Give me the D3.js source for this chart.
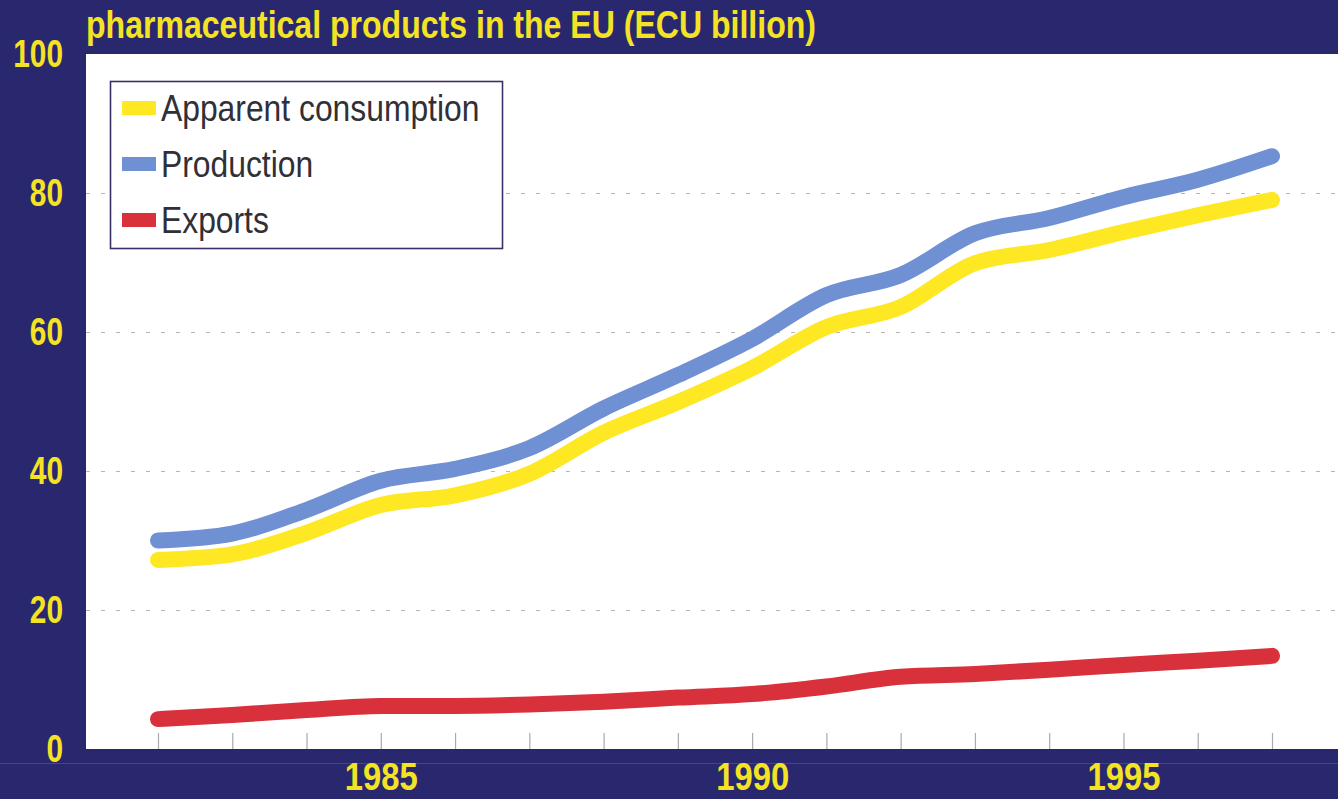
<!DOCTYPE html>
<html>
<head>
<meta charset="utf-8">
<script src="https://cdn.jsdelivr.net/npm/d3@7"></script>
<style>
  html, body { margin: 0; padding: 0; background: #29286f; }
  svg { display: block; }
</style>
</head>
<body>
<svg id="chart" width="1338" height="799"></svg>
<script>
// EU pharmaceutical market, ECU billion
const years = [1982, 1983, 1984, 1985, 1986, 1987, 1988, 1989, 1990, 1991, 1992, 1993, 1994, 1995, 1996, 1997];
const consumption = [27.2, 28.0, 31.1, 35.1, 36.5, 39.6, 45.5, 49.9, 54.8, 60.7, 63.6, 69.9, 71.8, 74.4, 76.8, 79.0];
const production  = [30.0, 31.0, 34.4, 38.6, 40.3, 43.3, 49.0, 53.8, 59.0, 65.3, 68.2, 74.2, 76.4, 79.4, 81.9, 85.3];
const exportsVals = [4.3, 4.9, 5.6, 6.2, 6.2, 6.4, 6.8, 7.4, 7.9, 9.0, 10.4, 10.8, 11.4, 12.1, 12.7, 13.4];
const yTicks = [0, 20, 40, 60, 80, 100];
const xLabels = [1985, 1990, 1995];
const seriesNames = ["Apparent consumption", "Production", "Exports"];
const seriesColors = ["#fde823", "#6f90d2", "#d8313c"];
const titleText = "pharmaceutical products in the EU (ECU billion)";

const svg = d3.select("#chart");
const W = 1338, H = 799;
const plot = { left: 86, top: 54, right: 1338, bottom: 749 };

const x = d3.scaleLinear().domain([1982, 1997]).range([158, 1272]);
const y = d3.scaleLinear().domain([0, 100]).range([plot.bottom, plot.top]);

const yellow = "#f4e325";
const font = "'Liberation Sans', Arial, sans-serif";

// squeeze text horizontally to a condensed width
function condense(sel, factor) {
  sel.each(function () {
    const w = this.getComputedTextLength();
    d3.select(this).attr("textLength", w * factor).attr("lengthAdjust", "spacingAndGlyphs");
  });
}

// background
svg.append("rect").attr("width", W).attr("height", H).attr("fill", "#29286f");

// faint rule below the plot
svg.append("line")
  .attr("x1", 0).attr("x2", W).attr("y1", 763.5).attr("y2", 763.5)
  .attr("stroke", "#8a3a7c").attr("stroke-width", 1).attr("opacity", 0.7);

// title
svg.append("text")
  .attr("x", 86).attr("y", 38)
  .attr("font-family", font).attr("font-weight", "bold")
  .attr("font-size", 38).attr("fill", yellow)
  .attr("textLength", 730).attr("lengthAdjust", "spacingAndGlyphs")
  .text(titleText);

// plot area
svg.append("rect")
  .attr("x", plot.left).attr("y", plot.top)
  .attr("width", plot.right - plot.left).attr("height", plot.bottom - plot.top)
  .attr("fill", "#ffffff");

// dashed gridlines
svg.append("g")
  .selectAll("line")
  .data(yTicks.filter(d => d > 0 && d < 100))
  .join("line")
  .attr("x1", plot.left).attr("x2", plot.right)
  .attr("y1", d => y(d) + 0.5).attr("y2", d => y(d) + 0.5)
  .attr("stroke", "#b5b5b8").attr("stroke-width", 1)
  .attr("stroke-dasharray", "4,11");

// y-axis labels
const yAxis = d3.axisLeft(y).tickValues(yTicks).tickSize(0).tickPadding(0);
const gy = svg.append("g").attr("transform", "translate(63,0)").call(yAxis);
gy.select(".domain").remove();
gy.selectAll("text")
  .attr("font-family", font).attr("font-weight", "bold")
  .attr("font-size", 38).attr("fill", yellow)
  .attr("dy", "0.34em")
  .attr("textLength", d => String(d).length * 16.6)
  .attr("lengthAdjust", "spacingAndGlyphs");

// x-axis minor ticks inside the plot
const xTickAxis = d3.axisTop(x).tickValues(years).tickSize(16).tickFormat("");
const gxt = svg.append("g").attr("transform", `translate(0,${plot.bottom})`).call(xTickAxis);
gxt.select(".domain").remove();
gxt.selectAll("line").attr("stroke", "#a9a9b0").attr("stroke-width", 1.2);

// x-axis year labels (baseline placed directly)
const xAxis = d3.axisBottom(x).tickValues(xLabels).tickSize(0).tickPadding(0).tickFormat(d3.format("d"));
const gx = svg.append("g").attr("transform", "translate(0,0)").call(xAxis);
gx.select(".domain").remove();
gx.selectAll("text")
  .attr("y", 790).attr("dy", null)
  .attr("font-family", font).attr("font-weight", "bold")
  .attr("font-size", 38).attr("fill", yellow)
  .attr("textLength", 73)
  .attr("lengthAdjust", "spacingAndGlyphs");

// series lines
const line = d3.line()
  .x((d, i) => x(years[i]))
  .y(d => y(d))
  .curve(d3.curveMonotoneX);

const series = [exportsVals, consumption, production];
const seriesCol = [seriesColors[2], seriesColors[0], seriesColors[1]];
svg.append("g")
  .selectAll("path")
  .data(series)
  .join("path")
  .attr("d", d => line(d))
  .attr("fill", "none")
  .attr("stroke", (d, i) => seriesCol[i])
  .attr("stroke-width", 16)
  .attr("stroke-linecap", "round")
  .attr("stroke-linejoin", "round");

// legend
const lg = svg.append("g").attr("transform", "translate(110,81)");
lg.append("rect")
  .attr("x", 0.5).attr("y", 0.5).attr("width", 392).attr("height", 167)
  .attr("fill", "#ffffff").attr("stroke", "#3c2f66").attr("stroke-width", 1.6);
const rows = lg.selectAll("g.row")
  .data(seriesNames)
  .join("g")
  .attr("class", "row")
  .attr("transform", (d, i) => `translate(0,${27 + i * 56})`);
rows.append("rect")
  .attr("x", 12).attr("y", -7).attr("width", 34).attr("height", 14)
  .attr("fill", (d, i) => seriesColors[i]);
const legendText = rows.append("text")
  .attr("x", 51).attr("y", 0).attr("dy", "0.36em")
  .attr("font-family", font).attr("font-size", 37)
  .attr("fill", "#303036")
  .text(d => d);
condense(legendText, 0.86);
</script>
</body>
</html>
